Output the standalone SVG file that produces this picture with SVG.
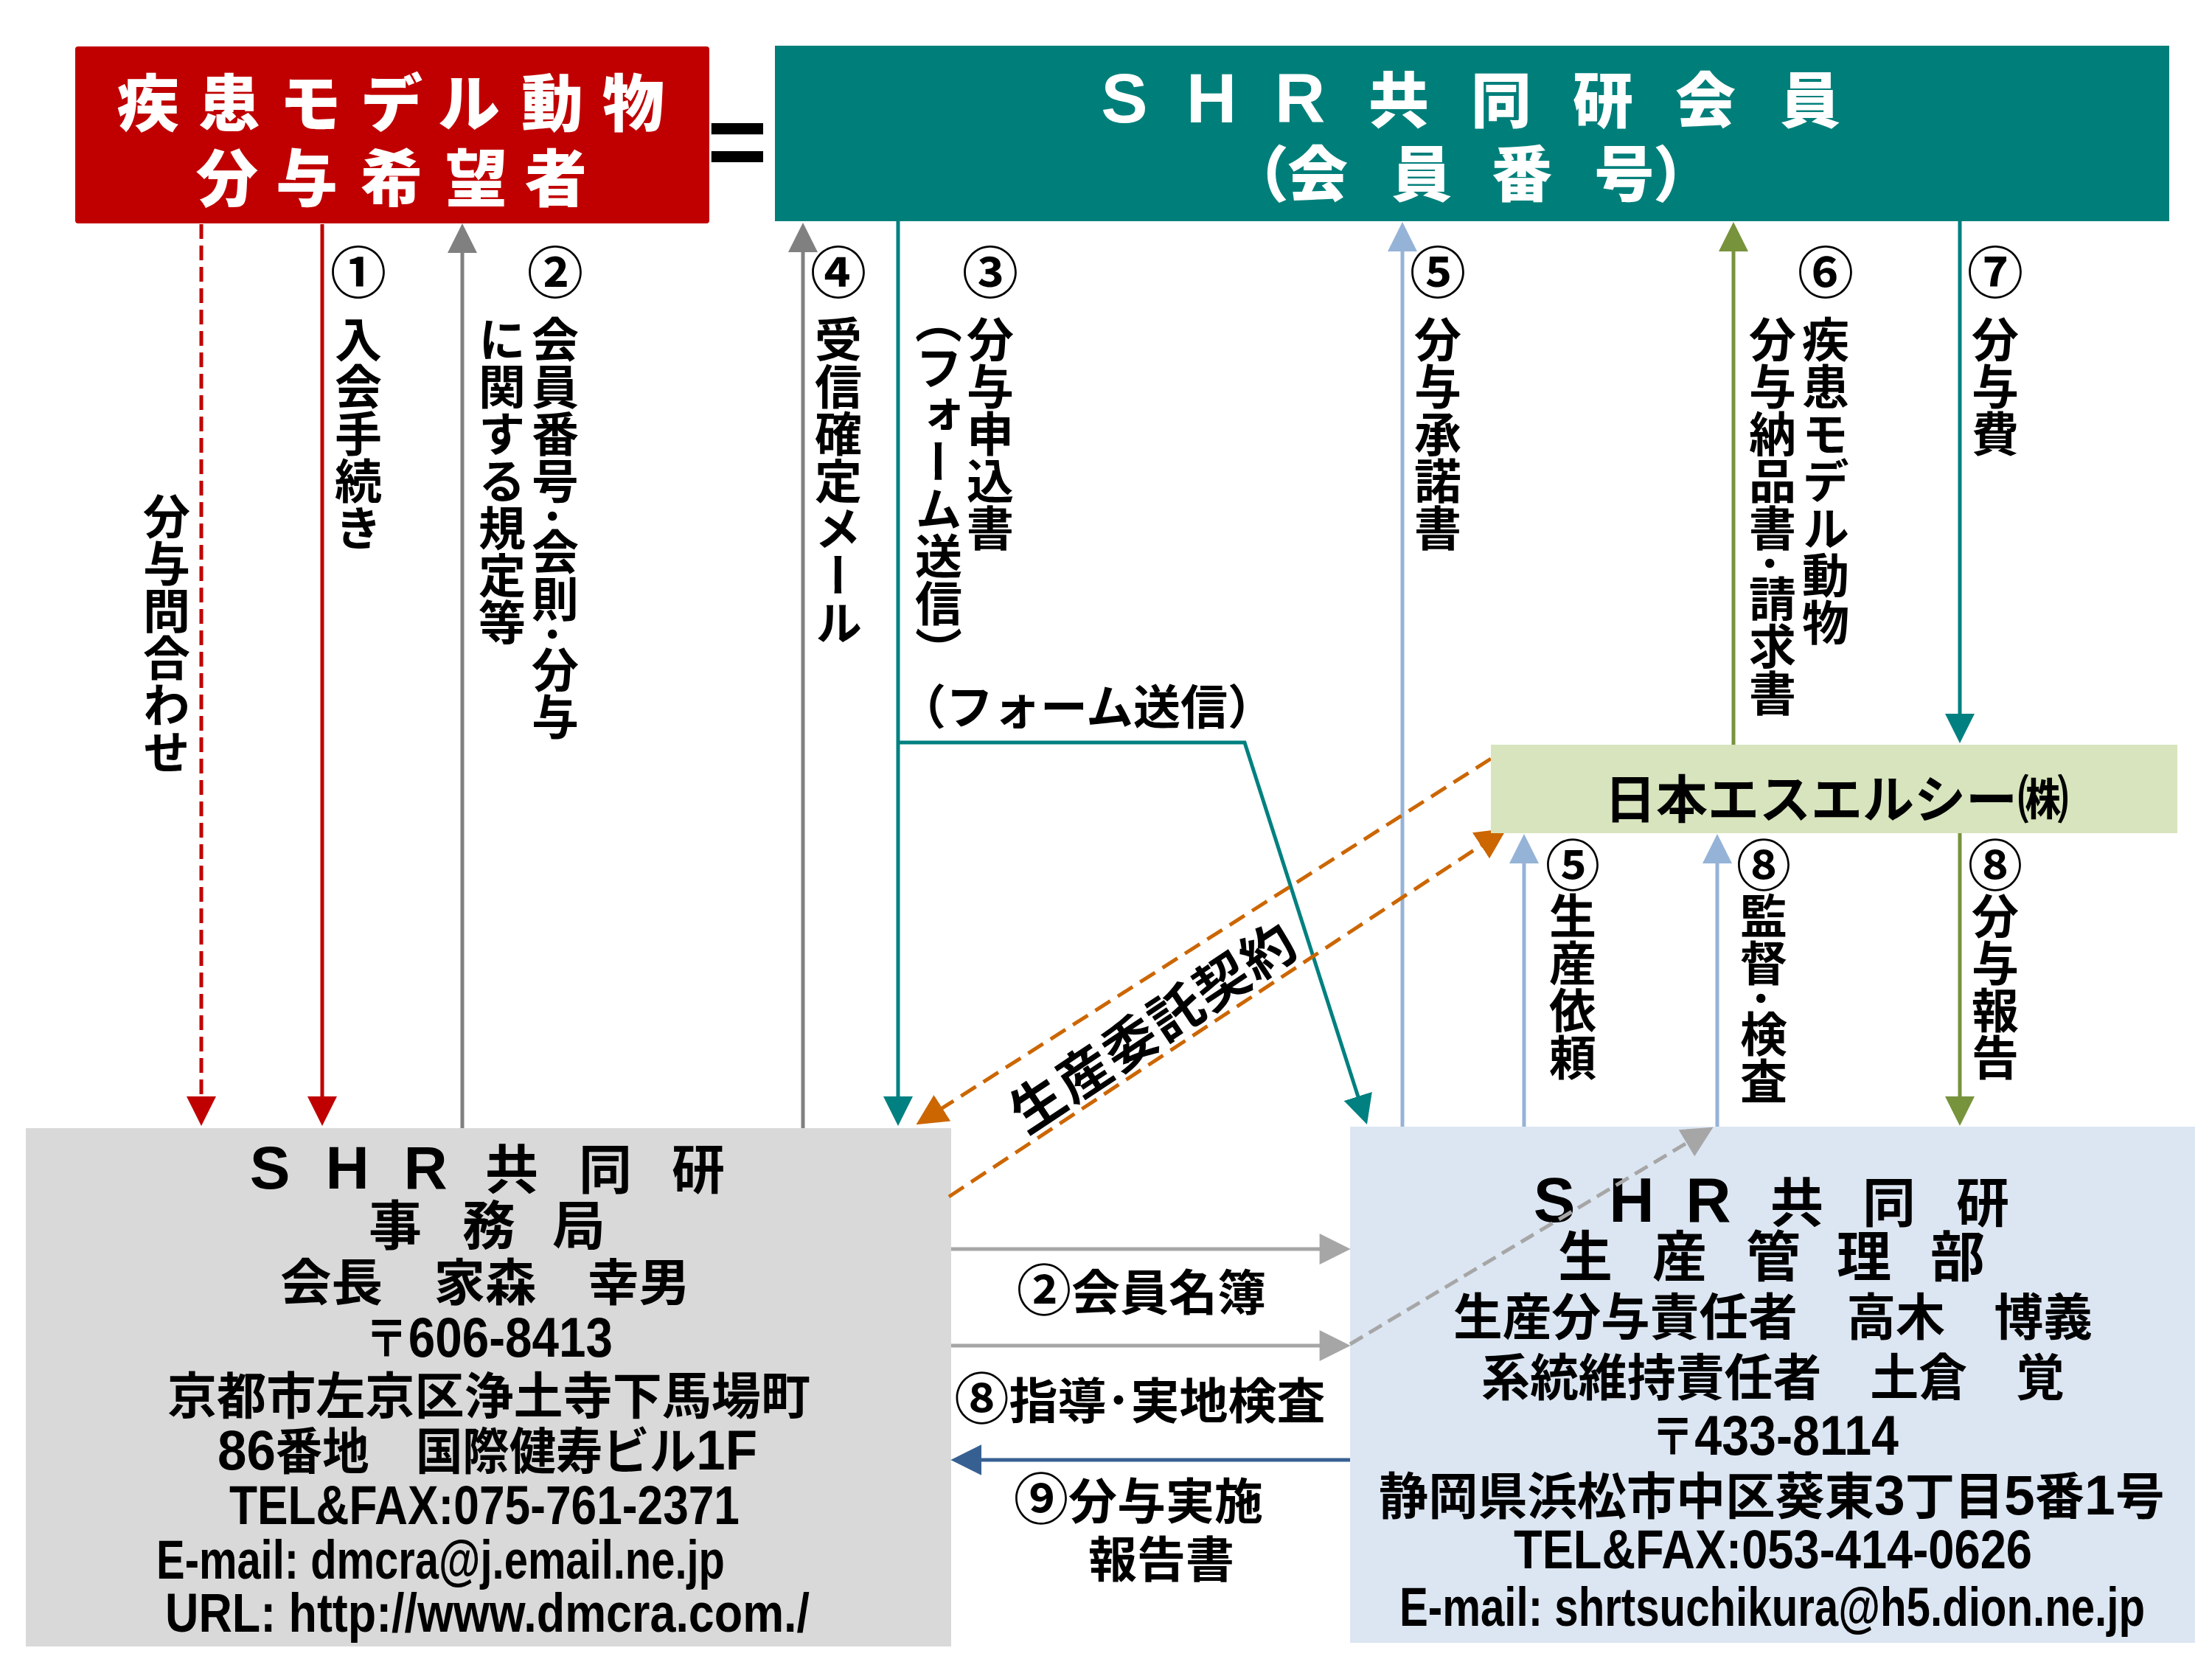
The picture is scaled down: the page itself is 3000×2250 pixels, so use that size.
<svg xmlns="http://www.w3.org/2000/svg" width="3000" height="2250" viewBox="0 0 3000 2250">
<defs>
<style>
text { font-family: "Noto Sans CJK JP", "Noto Sans", sans-serif; font-weight: 700; fill: #000; }
.lat { font-family: "Liberation Sans", "Noto Sans CJK JP", sans-serif; font-weight: 700; }
.wt { fill: #fff; font-weight: 900; }
.v { writing-mode: vertical-rl; font-size: 64px; }
.num { font-size: 76px; text-anchor: middle; }
.cn { font-size: 74px; }
.c { text-anchor: middle; }
.body { font-size: 68px; }
.lbl { font-size: 66px; text-anchor: middle; }
.ln { fill: none; stroke-width: 5; }
</style>
<marker id="mRed" viewBox="0 0 40 40" refX="28" refY="20" markerWidth="40" markerHeight="40" markerUnits="userSpaceOnUse" orient="auto"><path d="M0,0 L40,20 L0,40 z" fill="#C00000"/></marker>
<marker id="mGray" viewBox="0 0 40 40" refX="28" refY="20" markerWidth="40" markerHeight="40" markerUnits="userSpaceOnUse" orient="auto"><path d="M0,0 L40,20 L0,40 z" fill="#808080"/></marker>
<marker id="mTeal" viewBox="0 0 40 40" refX="28" refY="20" markerWidth="40" markerHeight="40" markerUnits="userSpaceOnUse" orient="auto"><path d="M0,0 L40,20 L0,40 z" fill="#008080"/></marker>
<marker id="mLBlue" viewBox="0 0 40 40" refX="28" refY="20" markerWidth="40" markerHeight="40" markerUnits="userSpaceOnUse" orient="auto"><path d="M0,0 L40,20 L0,40 z" fill="#95B3D7"/></marker>
<marker id="mOlive" viewBox="0 0 40 40" refX="28" refY="20" markerWidth="40" markerHeight="40" markerUnits="userSpaceOnUse" orient="auto"><path d="M0,0 L40,20 L0,40 z" fill="#77933C"/></marker>
<marker id="mOrange" viewBox="0 0 40 40" refX="28" refY="20" markerWidth="42" markerHeight="42" markerUnits="userSpaceOnUse" orient="auto"><path d="M0,0 L40,20 L0,40 z" fill="#CC6600"/></marker>
<marker id="mLGray" viewBox="0 0 40 40" refX="28" refY="20" markerWidth="44" markerHeight="42" markerUnits="userSpaceOnUse" orient="auto"><path d="M0,0 L40,20 L0,40 z" fill="#A6A6A6"/></marker>
<marker id="mNavy" viewBox="0 0 40 40" refX="28" refY="20" markerWidth="42" markerHeight="42" markerUnits="userSpaceOnUse" orient="auto"><path d="M0,0 L40,20 L0,40 z" fill="#376092"/></marker>
</defs>
<rect x="0" y="0" width="3000" height="2250" fill="#fff"/>

<g id="node-office">
<rect x="35" y="1530" width="1255" height="703" fill="#D9D9D9"/>
<text y="1612"><tspan class="lat" font-size="82" x="366 471 577" text-anchor="middle">SHR</tspan><tspan font-size="72" x="694 821 947" text-anchor="middle">共同研</tspan></text>
<text y="1688" font-size="72" x="536 663 785" text-anchor="middle">事務局</text>
<text class="body" x="380" y="1764" textLength="556" lengthAdjust="spacingAndGlyphs">会長　家森　幸男</text>
<text class="body" x="495" y="1840" textLength="336" lengthAdjust="spacingAndGlyphs">〒<tspan class="lat" font-size="76">606-8413</tspan></text>
<text class="body" x="227" y="1918" textLength="872" lengthAdjust="spacingAndGlyphs">京都市左京区浄土寺下馬場町</text>
<text class="body" x="295" y="1993" textLength="732" lengthAdjust="spacingAndGlyphs"><tspan class="lat" font-size="76">86</tspan>番地　国際健寿ビル<tspan class="lat" font-size="76">1F</tspan></text>
<text class="lat" font-size="74" x="311" y="2067" textLength="692" lengthAdjust="spacingAndGlyphs">TEL&amp;FAX:075-761-2371</text>
<text class="lat" font-size="74" x="212" y="2141" textLength="771" lengthAdjust="spacingAndGlyphs">E-mail: dmcra@j.email.ne.jp</text>
<text class="lat" font-size="74" x="224" y="2213" textLength="874" lengthAdjust="spacingAndGlyphs">URL: http://www.dmcra.com./</text>
</g>

<g id="node-production">
<rect x="1831" y="1528" width="1146" height="700" fill="#DCE6F2"/>
<text y="1657"><tspan class="lat" font-size="85" x="2108 2213 2317" text-anchor="middle">SHR</tspan><tspan font-size="72" x="2437 2562 2689" text-anchor="middle">共同研</tspan></text>
<text y="1731" font-size="74" x="2150 2278 2405 2528 2655" text-anchor="middle">生産管理部</text>
<text class="body" x="1971" y="1811" textLength="867" lengthAdjust="spacingAndGlyphs">生産分与責任者　高木　博義</text>
<text class="body" x="2009" y="1893" textLength="791" lengthAdjust="spacingAndGlyphs">系統維持責任者　土倉　覚</text>
<text class="body" x="2239" y="1973" textLength="336" lengthAdjust="spacingAndGlyphs">〒<tspan class="lat" font-size="76">433-8114</tspan></text>
<text class="body" x="1870" y="2054" textLength="1066" lengthAdjust="spacingAndGlyphs">静岡県浜松市中区葵東<tspan class="lat" font-size="76">3</tspan>丁目<tspan class="lat" font-size="76">5</tspan>番<tspan class="lat" font-size="76">1</tspan>号</text>
<text class="lat" font-size="74" x="2053" y="2127" textLength="703" lengthAdjust="spacingAndGlyphs">TEL&amp;FAX:053-414-0626</text>
<text class="lat" font-size="74" x="1898" y="2205" textLength="1011" lengthAdjust="spacingAndGlyphs">E-mail: shrtsuchikura@h5.dion.ne.jp</text>
</g>

<g id="connectors">
<path class="ln" d="M273,304 V1515" stroke="#C00000" stroke-width="7" stroke-dasharray="20 9" marker-end="url(#mRed)"/>
<path class="ln" d="M437,304 V1515" stroke="#C00000" marker-end="url(#mRed)"/>
<path class="ln" d="M627,1530 V315" stroke="#808080" marker-end="url(#mGray)"/>
<path class="ln" d="M1089,1530 V314" stroke="#808080" marker-end="url(#mGray)"/>
<path class="ln" d="M1218,300 V1515" stroke="#008080" marker-end="url(#mTeal)"/>
<path class="ln" d="M1218,1007 H1688 L1850.3,1513.6" stroke="#008080" marker-end="url(#mTeal)"/>
<path class="ln" d="M1902,1528 V313" stroke="#95B3D7" marker-end="url(#mLBlue)"/>
<path class="ln" d="M2351,1010 V313" stroke="#77933C" marker-end="url(#mOlive)"/>
<path class="ln" d="M2658,300 V996" stroke="#008080" marker-end="url(#mTeal)"/>
<path class="ln" d="M2067,1528 V1143" stroke="#95B3D7" marker-end="url(#mLBlue)"/>
<path class="ln" d="M2329,1528 V1143" stroke="#95B3D7" marker-end="url(#mLBlue)"/>
<path class="ln" d="M2658,1130 V1515" stroke="#77933C" marker-end="url(#mOlive)"/>
<path class="ln" d="M2022,1029 L1253.1,1518.6" stroke="#CC6600" stroke-width="7" stroke-dasharray="24 12" marker-end="url(#mOrange)"/>
<path class="ln" d="M1287,1623 L2033,1130.6" stroke="#CC6600" stroke-width="7" stroke-dasharray="24 12" marker-end="url(#mOrange)"/>
<path class="ln" d="M1290,1694 H1819" stroke="#A6A6A6" stroke-width="6" marker-end="url(#mLGray)"/>
<path class="ln" d="M1290,1825 H1819" stroke="#A6A6A6" stroke-width="6" marker-end="url(#mLGray)"/>
<path class="ln" d="M1831,1823 L2312.7,1535.2" stroke="#A6A6A6" stroke-width="6" stroke-dasharray="20 10" marker-end="url(#mLGray)"/>
<path class="ln" d="M1831,1980 H1302" stroke="#376092" stroke-width="6" marker-end="url(#mNavy)"/>

<text class="v" x="226" y="668">分与問合わせ</text>
<text class="num" x="486" y="398">①</text>
<text class="v" x="486" y="428">入会手続き</text>
<text class="num" x="753" y="398">②</text>
<text class="v" x="753" y="428">会員番号･会則･分与</text>
<text class="v" x="681" y="428">に関する規定等</text>
<text class="num" x="1137" y="398">④</text>
<text class="v" x="1137" y="428">受信確定メール</text>
<text class="num" x="1343" y="398">③</text>
<text class="v" x="1343" y="428">分与申込書</text>
<text class="v" x="1273" y="402">（フォーム送信）</text>
<text font-size="64" x="1219" y="982">（フォーム送信）</text>
<text class="num" x="1950" y="398">⑤</text>
<text class="v" x="1950" y="428">分与承諾書</text>
<text class="num" x="2476" y="398">⑥</text>
<text class="v" x="2476" y="428">疾患モデル動物</text>
<text class="v" x="2404" y="428">分与納品書･請求書</text>
<text class="num" x="2706" y="398">⑦</text>
<text class="v" x="2706" y="428">分与費</text>
<text class="v" x="2133" y="1136"><tspan class="cn">⑤</tspan>生産依頼</text>
<text class="v" x="2392" y="1136"><tspan class="cn">⑧</tspan>監督･検査</text>
<text class="v" x="2706" y="1136"><tspan class="cn">⑧</tspan>分与報告</text>
<text font-size="72" letter-spacing="3" text-anchor="middle" transform="translate(1565,1393) rotate(-33.6)" x="0" y="26">生産委託契約</text>
<text class="lbl" x="1548" y="1777"><tspan class="cn">②</tspan>会員名簿</text>
<text class="lbl" x="1546" y="1924"><tspan class="cn">⑧</tspan>指導･実地検査</text>
<text class="lbl" x="1544" y="2060"><tspan class="cn">⑨</tspan>分与実施</text>
<text class="lbl" x="1575" y="2139">報告書</text>
</g>

<g id="node-slc">
<rect x="2022" y="1010" width="931" height="120" fill="#D7E4BD"/>
<text font-size="70" class="c" x="2491" y="1110">日本エスエルシー㈱</text>
</g>

<g id="node-applicant">
<rect x="102" y="63" width="860" height="240" rx="4" fill="#C00000"/>
<text class="wt" font-size="84" y="171" x="201 311 421 531 636 749 859" text-anchor="middle">疾患モデル動物</text>
<text class="wt" font-size="84" y="273" x="308 416 531 646 754" text-anchor="middle">分与希望者</text>
</g>

<text class="lat" font-size="140" x="1000" y="240" text-anchor="middle">=</text>

<g id="node-member">
<rect x="1051" y="62" width="1891" height="238" fill="#007F7A"/>
<text y="166"><tspan class="lat wt" font-size="95" x="1525 1643 1763" text-anchor="middle">SHR</tspan><tspan class="wt" font-size="82" x="1897 2036 2174 2313 2455" text-anchor="middle">共同研会員</tspan></text>
<text class="wt" font-size="82" y="266" x="1707 1787 1928 2064 2203 2283" text-anchor="middle">（会員番号）</text>
</g>
</svg>
